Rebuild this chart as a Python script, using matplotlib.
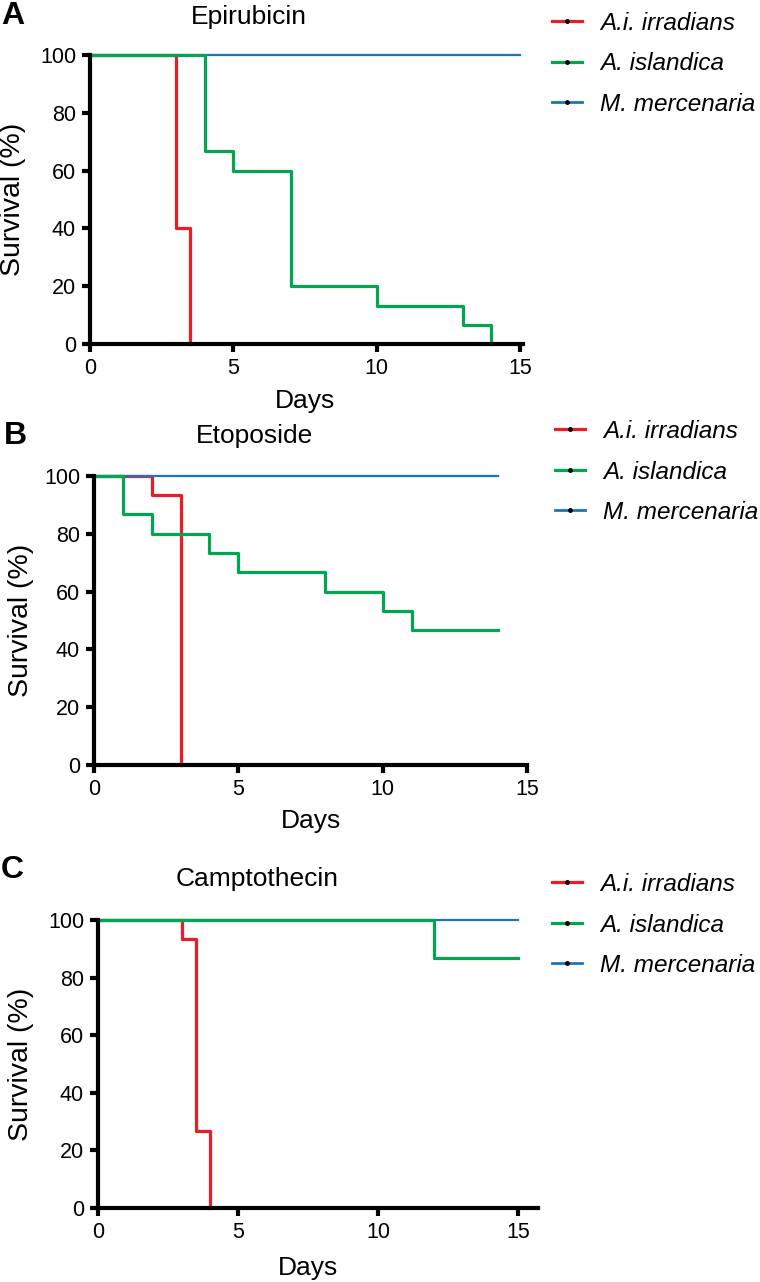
#
# Survival curves of three bivalve species under three drugs
#
import numpy as np
import matplotlib
matplotlib.use('Agg')
import matplotlib.pyplot as plt
from matplotlib.lines import Line2D

plt.rcParams['font.family'] = ['Liberation Sans', 'DejaVu Sans']

# species
species = ['A.i. irradians', 'A. islandica', 'M. mercenaria']
colors = ['#ED1C24', '#00A651', '#1C75BC']

# panel A : Epirubicin
epi_red_days = [0, 3, 3.5]
epi_red_surv = [100, 40, 0]
epi_green_days = [0, 4, 5, 7, 10, 13, 14]
epi_green_surv = [100, 66.7, 60, 20, 13.3, 6.7, 0]
epi_blue_days = [0, 15]
epi_blue_surv = [100, 100]

# panel B : Etoposide
eto_red_days = [0, 2, 3]
eto_red_surv = [100, 93.3, 0]
eto_green_days = [0, 1, 2, 4, 5, 8, 10, 11, 14]
eto_green_surv = [100, 86.7, 80, 73.3, 66.7, 60, 53.3, 46.7, 46.7]
eto_blue_days = [0, 14]
eto_blue_surv = [100, 100]

# panel C : Camptothecin
cam_red_days = [0, 3, 3.5, 4]
cam_red_surv = [100, 93.3, 26.7, 0]
cam_green_days = [0, 12, 15]
cam_green_surv = [100, 86.7, 86.7]
cam_blue_days = [0, 15]
cam_blue_surv = [100, 100]

W, H = 760, 1282
fig = plt.figure(figsize=(W / 100, H / 100), dpi=100)

def fx(x):
    return x / W

def fy(y):
    return 1 - y / H

# layout of each panel in pixels: left, y of 0, y of 100, pixels per day, xmax,
# title pos, letter pos, Days y, ylabel x, legend first row
panels = [
    dict(letter='A', title='Epirubicin', left=90, y0=344, y100=55, ppd=28.67, xmax=15.1,
         tpos=(249, 17), lpos=(1, 16), days_y=401, ylab_x=13, leg=(552, 23),
         red=(epi_red_days, epi_red_surv), green=(epi_green_days, epi_green_surv),
         blue=(epi_blue_days, epi_blue_surv)),
    dict(letter='B', title='Etoposide', left=94, y0=765, y100=476, ppd=28.87, xmax=15.0,
         tpos=(254, 436), lpos=(4, 436), days_y=821, ylab_x=21, leg=(555, 431),
         red=(eto_red_days, eto_red_surv), green=(eto_green_days, eto_green_surv),
         blue=(eto_blue_days, eto_blue_surv)),
    dict(letter='C', title='Camptothecin', left=98, y0=1208, y100=920, ppd=28.0, xmax=15.7,
         tpos=(257, 879), lpos=(1, 870), days_y=1268, ylab_x=21, leg=(552, 884),
         red=(cam_red_days, cam_red_surv), green=(cam_green_days, cam_green_surv),
         blue=(cam_blue_days, cam_blue_surv)),
]

for p in panels:
    width = p['ppd'] * p['xmax']
    ax = fig.add_axes([fx(p['left']), fy(p['y0']), width / W, (p['y0'] - p['y100']) / H])

    # red under blue, green on top
    ax.plot(*p['red'], drawstyle='steps-post', color=colors[0], lw=2.3, clip_on=False, zorder=2)
    ax.plot(*p['blue'], drawstyle='steps-post', color=colors[2], lw=1.6, clip_on=False, zorder=3)
    ax.plot(*p['green'], drawstyle='steps-post', color=colors[1], lw=2.3, clip_on=False, zorder=4)

    ax.set_xlim(0, p['xmax'])
    ax.set_ylim(0, 100)
    ax.set_xticks([0, 5, 10, 15])
    ax.set_yticks(np.arange(0, 101, 20))

    for s in ['top', 'right']:
        ax.spines[s].set_visible(False)
    for s in ['left', 'bottom']:
        ax.spines[s].set_linewidth(3)
        ax.spines[s].set_zorder(5)
    ax.tick_params(axis='both', direction='out', length=6, width=3, labelsize=15.5, pad=4)
    ax.patch.set_visible(False)

    # texts
    fig.text(fx(p['tpos'][0]), fy(p['tpos'][1]), p['title'], ha='center', va='center', fontsize=19)
    fig.text(fx(p['lpos'][0]), fy(p['lpos'][1]), p['letter'], ha='left', va='center',
             fontsize=23, fontweight='bold')
    fig.text(fx(p['left'] + 7.5 * p['ppd']), fy(p['days_y']), 'Days', ha='center', va='center',
             fontsize=19)
    fig.text(fx(p['ylab_x']), fy((p['y0'] + p['y100']) / 2), 'Survival (%)', ha='center',
             va='center', rotation=90, fontsize=20.5)

    # legend
    handles = [Line2D([], [], color=c, lw=2.3 if i < 2 else 2.0, marker='o', ms=2.5,
                      mfc='k', mec='k') for i, c in enumerate(colors)]
    leg = fig.legend(handles, species, loc='upper left',
                     bbox_to_anchor=(fx(p['leg'][0]), fy(p['leg'][1] - 11)),
                     frameon=False, borderpad=0, borderaxespad=0,
                     handlelength=1.25, handletextpad=0.72, labelspacing=0.72,
                     prop={'size': 17.5, 'style': 'italic'})

plt.savefig('out.png', dpi=100)
plt.close('all')
